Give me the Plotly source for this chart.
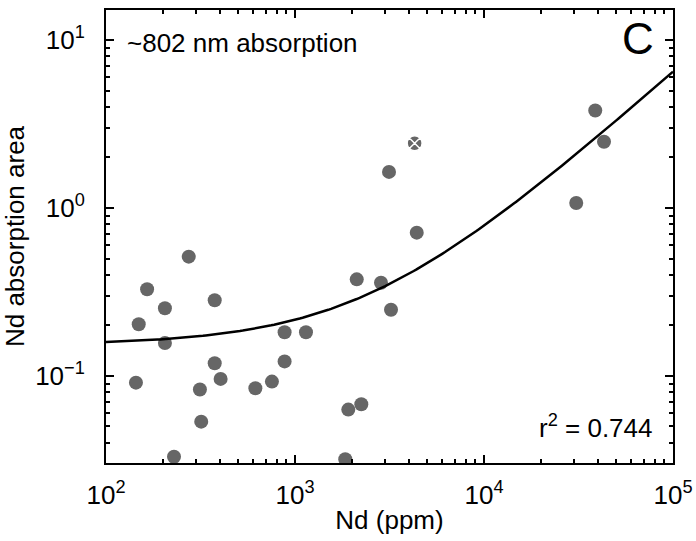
import plotly.graph_objects as go
import numpy as np

# Data
nd_ppm = [144, 149, 165, 205, 205, 274, 229, 314, 319, 376, 376, 404, 617, 755,
          881, 881, 1143, 1914, 2243, 1845, 2122, 2851, 3221, 4407, 3143,
          30760, 38780, 43150]
absorb = [0.0912, 0.203, 0.328, 0.253, 0.157, 0.513, 0.033, 0.083, 0.0534, 0.282,
          0.119, 0.096, 0.0845, 0.0925, 0.182, 0.122, 0.182, 0.063, 0.0678, 0.0319,
          0.376, 0.359, 0.248, 0.713, 1.64, 1.07, 3.81, 2.48]
excluded_nd = [4295]
excluded_abs = [2.43]

# Linear fit parameters: y = a + b*x
fit_a = 0.1527
fit_b = 6.327e-5

x_ticks = [1e2, 1e3, 1e4, 1e5]
x_ticktext = ["10<sup>2</sup>", "10<sup>3</sup>", "10<sup>4</sup>", "10<sup>5</sup>"]
y_ticks = [0.1, 1, 10]
y_ticktext = ["10<sup>\u22121</sup>", "10<sup>0</sup>", "10<sup>1</sup>"]

x_minor = [m * 10 ** e for e in range(2, 5) for m in range(2, 10)]
y_minor = [m * 10 ** e for e in range(-2, 2) for m in range(2, 10)]

fit_x = np.logspace(2, 5, 200)
fit_y = fit_a + fit_b * fit_x

FONT = "Liberation Sans, Arial, Helvetica, sans-serif"
GRAY = "#666666"

fig = go.Figure()
fig.add_trace(go.Scatter(x=nd_ppm, y=absorb, mode="markers",
                         marker=dict(size=14, color=GRAY, line=dict(width=0)),
                         showlegend=False))
fig.add_trace(go.Scatter(x=excluded_nd, y=excluded_abs, mode="markers",
                         marker=dict(size=15, color=GRAY, symbol="circle-x",
                                     line=dict(width=1.5, color="white")),
                         showlegend=False))
fig.add_trace(go.Scatter(x=fit_x, y=fit_y, mode="lines",
                         line=dict(color="black", width=2.5),
                         showlegend=False))

fig.update_layout(
    width=696, height=541,
    margin=dict(l=106, r=23, t=10, b=78),
    plot_bgcolor="white", paper_bgcolor="white",
    font=dict(family=FONT, size=26, color="black"),
    xaxis=dict(type="log", range=[2, 5], automargin=False,
               tickmode="array", tickvals=x_ticks, ticktext=x_ticktext,
               ticks="inside", ticklen=8, tickwidth=1.5, tickcolor="black",
               showline=True, linecolor="black", linewidth=2, mirror="ticks",
               showgrid=False, zeroline=False, ticklabelstandoff=8,
               tickfont=dict(size=26, family=FONT),
               minor=dict(tickmode="array", tickvals=x_minor, ticks="inside",
                          ticklen=4, tickwidth=1.5, tickcolor="black", showgrid=False),
               title=dict(text="Nd (ppm)", font=dict(size=26, family=FONT), standoff=2)),
    yaxis=dict(type="log", range=[np.log10(0.0303), np.log10(15.1)], automargin=False,
               tickmode="array", tickvals=y_ticks, ticktext=y_ticktext,
               ticks="inside", ticklen=8, tickwidth=1.5, tickcolor="black",
               showline=True, linecolor="black", linewidth=2, mirror="ticks",
               showgrid=False, zeroline=False, ticklabelstandoff=14,
               tickfont=dict(size=26, family=FONT),
               minor=dict(tickmode="array", tickvals=y_minor, ticks="inside",
                          ticklen=4, tickwidth=1.5, tickcolor="black", showgrid=False),
               title=dict(text="Nd absorption area", font=dict(size=26, family=FONT), standoff=16)),
)

fig.add_annotation(text="~802 nm absorption", xref="paper", yref="paper",
                   x=0.0335, y=0.927, xanchor="left", yanchor="middle", showarrow=False,
                   font=dict(size=26, family=FONT))
fig.add_annotation(text="C", xref="paper", yref="paper",
                   x=0.970, y=0.938, xanchor="right", yanchor="middle", showarrow=False,
                   font=dict(size=44, family=FONT))
fig.add_annotation(text="r<sup>2</sup> = 0.744", xref="paper", yref="paper",
                   x=0.968, y=0.08, xanchor="right", yanchor="middle", showarrow=False,
                   font=dict(size=26, family=FONT))

fig.write_html("out.html")
